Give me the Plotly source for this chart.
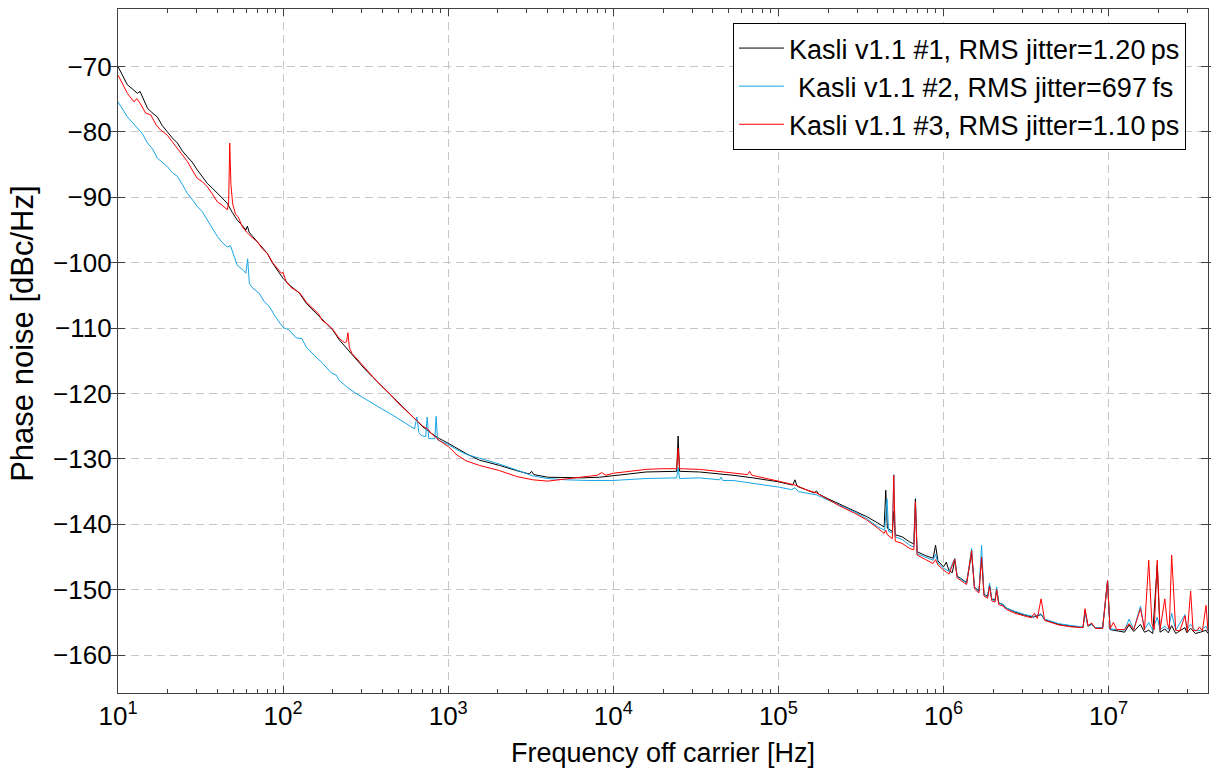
import numpy as np
import plotly.graph_objects as go

# Offset frequencies [Hz] and single-sideband phase noise [dBc/Hz]
f_k1 = [10, 11.4, 12.2, 13.1, 13.6, 14.2, 15.1, 16.0, 17.3, 18.5, 19.9, 21.3, 22.9, 24.5,
        26.3, 28.1, 30.2, 32.4, 34.8, 37.3, 40.0, 42.8, 45.9, 49.2, 52.8, 56.6, 59.5, 60.8,
        62.2, 65.5, 69.8, 75.0, 80.4, 86.5, 92.3, 100, 109, 119, 126, 138, 158, 172, 186,
        200, 219, 247, 277, 311, 349, 393, 441, 495, 556, 625, 702, 790, 885, 1000, 1130,
        1285, 1550, 2050, 2600, 3100, 3200, 3300, 4000, 5190, 6500, 8260, 10000, 12500,
        15800, 20000, 24200, 24700, 25200, 33300, 42000, 53000, 70000, 100000, 117000,
        122000, 126000, 130000, 150000, 165000, 170000, 176000, 200000, 235000, 290000,
        341000, 400000, 437000, 447000, 457000, 490000, 500000, 510000, 560000, 624000,
        661000, 676000, 692000, 780000, 865000, 895000, 925000, 1.0e6, 1.04e6, 1.08e6,
        1.13e6, 1.17e6, 1.21e6, 1.38e6, 1.48e6, 1.54e6, 1.64e6, 1.70e6, 1.76e6, 1.85e6,
        1.90e6, 1.96e6, 2.05e6, 2.10e6, 2.16e6, 2.29e6, 2.40e6, 2.70e6, 3.10e6, 3.50e6,
        3.90e6, 4.10e6, 5.0e6, 6.0e6, 7.0e6, 7.2e6, 7.5e6, 7.9e6, 8.3e6, 9.2e6, 9.55e6,
        9.85e6, 10.2e6, 11.5e6, 12.5e6, 13.3e6, 14.2e6, 15.6e6, 16.5e6, 17.5e6, 18.5e6,
        19.7e6, 20.5e6, 21.9e6, 23.0e6, 24.1e6, 25.5e6, 29.0e6, 29.8e6, 31.4e6, 33.5e6,
        36.0e6, 38.9e6, 40.0e6]
pn_k1 = [-70.0, -72.8, -73.4, -74.1, -73.8, -75.0, -76.4, -77.0, -77.7, -79.0, -80.0, -80.9,
         -81.7, -82.9, -83.8, -84.6, -85.8, -86.9, -87.9, -88.6, -89.4, -90.2, -90.9, -92.3,
         -93.5, -94.3, -95.0, -94.4, -95.3, -96.0, -96.8, -97.8, -98.6, -100.1, -101.1,
         -102.4, -103.4, -104.2, -104.7, -106.2, -107.7, -108.6, -109.5, -110.3, -111.8,
         -113.3, -114.9, -116.2, -117.5, -118.8, -120.1, -121.3, -122.5, -123.8, -125.1,
         -126.1, -126.9, -127.6, -128.4, -129.2, -130.2, -131.0, -131.8, -132.3, -131.9,
         -132.4, -132.8, -132.9, -132.9, -132.8, -132.6, -132.3, -132.0, -131.9, -131.9,
         -126.5, -131.9, -132.0, -132.2, -132.5, -132.9, -133.5, -133.9, -134.0, -133.2,
         -134.2, -134.8, -135.2, -134.9, -135.4, -136.1, -136.9, -137.9, -138.8, -139.8,
         -140.4, -134.8, -140.6, -141.1, -138.0, -141.6, -141.9, -142.7, -143.0, -136.1,
         -144.2, -144.8, -145.2, -143.2, -145.6, -146.5, -145.8, -147.1, -147.4, -145.5,
         -147.9, -148.9, -144.5, -149.6, -150.2, -145.0, -150.7, -151.0, -149.3, -151.4,
         -151.6, -150.0, -152.0, -152.3, -152.8, -153.4, -153.9, -154.2, -153.8, -154.6,
         -155.3, -155.6, -155.8, -153.2, -155.6, -155.2, -155.9, -155.9, -152.4, -148.8,
         -156.1, -156.4, -156.5, -155.4, -156.4, -155.3, -156.5, -156.2, -156.7, -146.3,
         -156.5, -156.0, -156.6, -155.5, -156.7, -155.8, -156.6, -155.9, -156.7, -156.5,
         -156.2, -156.7]

f_k2 = [10, 11.4, 13.1, 14.0, 15.1, 16.2, 17.3, 18.5, 19.9, 21.3, 22.9, 24.5, 26.3, 28.1,
        30.2, 32.4, 34.8, 37.3, 40.0, 42.8, 45.9, 48.0, 52.8, 57.6, 59.5, 61.0, 62.5, 65.0,
        71.8, 76.5, 82.6, 90.0, 100, 109, 120, 130, 138, 155, 174, 195, 210, 219, 246, 277,
        311, 349, 393, 440, 495, 556, 625, 646, 665, 686, 730, 746, 762, 830, 845, 862, 930,
        1000, 1130, 1285, 1550, 2050, 2600, 3260, 4000, 5190, 7000, 10000, 15800, 20000,
        24200, 24700, 25200, 33300, 44000, 45000, 46000, 53000, 70000, 100000, 120000,
        126000, 132000, 150000, 170000, 200000, 235000, 290000, 341000, 400000, 440000,
        455000, 465000, 490000, 500000, 510000, 560000, 624000, 661000, 676000, 692000,
        780000, 865000, 895000, 925000, 1.0e6, 1.08e6, 1.17e6, 1.21e6, 1.38e6, 1.48e6,
        1.54e6, 1.64e6, 1.70e6, 1.76e6, 1.85e6, 1.90e6, 1.96e6, 2.05e6, 2.10e6, 2.16e6,
        2.29e6, 2.40e6, 2.70e6, 3.10e6, 3.50e6, 3.90e6, 4.10e6, 5.0e6, 6.0e6, 7.0e6, 7.2e6,
        7.5e6, 7.9e6, 8.3e6, 9.2e6, 9.55e6, 9.85e6, 10.2e6, 11.5e6, 12.5e6, 13.3e6, 14.2e6,
        15.6e6, 16.5e6, 17.5e6, 18.5e6, 19.7e6, 20.5e6, 21.9e6, 23.0e6, 24.1e6, 25.5e6,
        29.0e6, 29.8e6, 31.4e6, 33.5e6, 36.0e6, 38.9e6, 40.0e6]
pn_k2 = [-75.4, -77.7, -79.4, -80.2, -81.7, -82.6, -84.0, -84.6, -85.3, -86.2, -86.8, -88.0,
         -89.4, -90.3, -91.4, -92.2, -93.5, -94.6, -96.0, -96.9, -97.6, -97.4, -100.4,
         -101.2, -101.6, -99.4, -103.2, -103.8, -104.7, -105.9, -106.7, -108.3, -109.9,
         -110.3, -111.5, -111.6, -112.9, -114.2, -115.4, -116.8, -117.2, -118.0, -119.1,
         -120.0, -120.8, -121.5, -122.3, -123.0, -123.8, -124.6, -125.4, -123.6, -126.0,
         -126.4, -126.6, -123.6, -126.9, -126.9, -123.5, -127.1, -127.5, -127.8, -128.6,
         -129.3, -129.9, -130.8, -131.7, -132.6, -133.0, -133.2, -133.3, -133.3, -133.0,
         -132.9, -132.9, -131.3, -133.0, -132.9, -133.2, -132.8, -133.3, -133.3, -133.7,
         -134.3, -134.7, -134.4, -135.0, -135.3, -135.5, -136.3, -137.1, -138.1, -139.1,
         -140.4, -140.9, -136.1, -141.1, -141.3, -132.4, -141.9, -142.3, -143.2, -143.5,
         -137.3, -144.5, -145.1, -145.5, -144.6, -145.9, -146.7, -147.2, -145.2, -148.0,
         -149.0, -143.7, -149.7, -150.3, -143.2, -150.8, -151.1, -149.0, -151.5, -151.7,
         -149.6, -152.1, -152.2, -152.8, -153.3, -153.8, -154.1, -153.7, -154.5, -155.2,
         -155.5, -155.7, -153.6, -155.5, -155.4, -155.8, -155.8, -152.0, -148.6, -156.0,
         -156.1, -156.2, -154.5, -156.1, -152.5, -156.1, -155.0, -156.2, -154.2, -156.1,
         -155.6, -156.1, -153.6, -156.2, -153.8, -156.1, -155.3, -156.3, -156.2, -155.6,
         -156.3]

f_k3 = [10, 11.4, 12.5, 13.0, 13.6, 14.7, 15.8, 17.0, 18.1, 19.9, 21.3, 22.9, 24.5, 26.3,
        28.1, 30.2, 32.4, 34.8, 37.3, 40.0, 42.8, 45.9, 46.8, 47.5, 48.3, 49.5, 51.5, 53.5,
        56.6, 60.0, 64.0, 69.8, 75.0, 80.4, 86.5, 92.3, 97.5, 100, 104, 112, 126, 138, 158,
        165, 172, 186, 200, 219, 235, 242, 247, 252, 262, 277, 311, 349, 393, 441, 495, 556,
        625, 702, 750, 790, 885, 1000, 1130, 1285, 1550, 2050, 2600, 3260, 4000, 5190, 6500,
        8000, 8500, 9000, 10000, 12500, 15800, 20000, 24200, 24700, 25200, 33300, 42000,
        53000, 65000, 67000, 69000, 100000, 126000, 150000, 170000, 200000, 235000, 290000,
        341000, 400000, 437000, 447000, 457000, 490000, 500000, 510000, 560000, 624000,
        661000, 676000, 692000, 780000, 865000, 895000, 925000, 1.0e6, 1.08e6, 1.17e6,
        1.21e6, 1.38e6, 1.48e6, 1.54e6, 1.64e6, 1.70e6, 1.76e6, 1.85e6, 1.90e6, 1.96e6,
        2.05e6, 2.10e6, 2.16e6, 2.29e6, 2.40e6, 2.70e6, 3.10e6, 3.40e6, 3.55e6, 3.70e6,
        3.90e6, 4.10e6, 5.0e6, 6.0e6, 7.0e6, 7.2e6, 7.5e6, 7.9e6, 8.3e6, 9.2e6, 9.55e6,
        9.85e6, 10.2e6, 10.7e6, 11.2e6, 12.5e6, 13.3e6, 14.2e6, 15.6e6, 16.5e6, 17.5e6,
        18.3e6, 18.9e6, 19.7e6, 20.5e6, 21.9e6, 22.7e6, 23.3e6, 24.1e6, 24.8e6, 25.5e6,
        27.0e6, 29.0e6, 30.0e6, 31.4e6, 32.5e6, 34.5e6, 35.5e6, 37.0e6, 38.9e6, 40.0e6]
pn_k3 = [-71.3, -74.1, -75.4, -74.9, -75.6, -77.1, -77.4, -78.9, -79.7, -80.5, -81.5, -82.5,
         -83.4, -84.5, -85.8, -87.1, -87.6, -88.4, -89.5, -90.7, -91.2, -91.9, -90.8, -81.7,
         -88.0, -91.0, -92.6, -93.0, -94.5, -95.3, -96.0, -96.8, -97.9, -98.6, -100.0,
         -100.8, -101.6, -101.5, -102.8, -103.8, -104.6, -106.0, -107.5, -107.9, -108.8,
         -109.4, -110.2, -111.6, -112.2, -112.1, -110.7, -113.0, -113.9, -114.6, -116.0,
         -117.4, -118.8, -120.0, -121.4, -122.6, -123.8, -125.0, -125.4, -126.1, -127.2,
         -128.1, -129.4, -130.3, -131.0, -131.8, -132.7, -133.2, -133.4, -133.1, -132.8,
         -132.5, -132.1, -132.5, -132.2, -131.9, -131.6, -131.5, -131.5, -128.4, -131.5,
         -131.6, -131.9, -132.2, -132.4, -131.9, -132.5, -133.4, -134.0, -134.8, -135.2,
         -136.2, -137.2, -138.3, -139.3, -140.6, -141.4, -140.9, -141.6, -142.2, -132.5,
         -142.6, -142.9, -143.7, -143.9, -136.6, -144.7, -145.4, -146.0, -145.4, -146.2,
         -147.0, -147.6, -145.3, -148.2, -149.2, -144.0, -149.9, -150.5, -145.0, -151.0,
         -151.3, -149.5, -151.7, -151.9, -150.0, -152.3, -152.5, -153.0, -153.6, -154.0,
         -154.3, -153.6, -154.4, -151.4, -154.7, -155.4, -155.7, -155.8, -152.9, -155.5,
         -155.1, -155.9, -155.9, -151.9, -148.6, -156.0, -155.0, -156.1, -156.1, -155.2,
         -156.1, -152.9, -156.1, -145.5, -155.2, -156.1, -145.5, -156.1, -151.4, -155.2,
         -156.0, -144.7, -151.0, -156.2, -156.3, -154.0, -156.4, -150.2, -156.3, -156.2,
         -155.7, -156.3, -152.4, -156.3]

series_names = ["Kasli v1.1 #1, RMS jitter=1.20\u2009ps",
                "\u2004Kasli v1.1 #2, RMS jitter=697\u2009fs",
                "Kasli v1.1 #3, RMS jitter=1.10\u2009ps"]
series_colors = ["#000000", "#16a6e6", "#ff0000"]

decade_vals = [1e1, 1e2, 1e3, 1e4, 1e5, 1e6, 1e7]
decade_text = ["10<sup>%d</sup>" % k for k in range(1, 8)]
minor_vals = [m * d for d in decade_vals for m in range(2, 10) if m * d <= 4e7]
y_ticks = list(range(-160, -69, 10))

FONT = "Liberation Sans, Arial, Helvetica, sans-serif"
AXIS_COLOR = "#404040"
GRID_COLOR = "#c6c6c6"
X_RANGE = [1, np.log10(4e7)]

fig = go.Figure()
for f, pn, name, color in zip([f_k1, f_k2, f_k3], [pn_k1, pn_k2, pn_k3],
                              series_names, series_colors):
    fig.add_trace(go.Scatter(x=f, y=pn, mode="lines", name=name,
                             line=dict(color=color, width=1)))

# empty trace bound to the top axis so its (minor) ticks are drawn
fig.add_trace(go.Scatter(x=[10, 4e7], y=[None, None], xaxis="x2", mode="lines",
                         showlegend=False, hoverinfo="skip"))

minor_ticks = dict(tickmode="array", tickvals=minor_vals, ticks="inside", ticklen=4,
                   tickwidth=1, tickcolor=AXIS_COLOR, showgrid=False)

fig.update_layout(
    width=1211, height=771,
    margin=dict(l=118, r=3, t=9, b=78),
    paper_bgcolor="white", plot_bgcolor="white",
    font=dict(family=FONT, size=26, color="black"),
    showlegend=True,
    legend=dict(x=0.9798, y=0.9795, xanchor="right", yanchor="top",
                bgcolor="white", bordercolor="black", borderwidth=1,
                font=dict(family=FONT, size=27, color="black"),
                itemwidth=45, tracegroupgap=0),
    annotations=[dict(text="Phase noise [dBc/Hz]", textangle=-90,
                      xref="paper", yref="paper", x=-0.0872, y=0.525,
                      xanchor="center", yanchor="middle", showarrow=False,
                      font=dict(family=FONT, size=31, color="black"))],
    xaxis=dict(
        type="log", range=X_RANGE,
        tickmode="array", tickvals=decade_vals, ticktext=decade_text,
        ticks="inside", ticklen=7, tickwidth=1, tickcolor=AXIS_COLOR,
        showline=True, linecolor=AXIS_COLOR, linewidth=1.2, mirror=True,
        showgrid=True, gridcolor=GRID_COLOR, gridwidth=1, griddash="8px,5px",
        minor=minor_ticks, zeroline=False,
        title=dict(text="Frequency off carrier [Hz]", standoff=12,
                   font=dict(family=FONT, size=27)),
        tickfont=dict(family=FONT, size=26),
    ),
    xaxis2=dict(
        type="log", range=X_RANGE, overlaying="x", side="top",
        tickmode="array", tickvals=decade_vals, showticklabels=False,
        ticks="inside", ticklen=7, tickwidth=1, tickcolor=AXIS_COLOR,
        minor=minor_ticks, showgrid=False, zeroline=False, showline=False,
    ),
    yaxis=dict(
        range=[-165.8, -61.2],
        tickmode="array", tickvals=y_ticks,
        ticks="inside", ticklen=7, tickwidth=1, tickcolor=AXIS_COLOR,
        showline=True, linecolor=AXIS_COLOR, linewidth=1.2, mirror="allticks",
        showgrid=True, gridcolor=GRID_COLOR, gridwidth=1, griddash="8px,5px",
        zeroline=False,
        tickfont=dict(family=FONT, size=26),
    ),
)

fig.write_html("out.html")
